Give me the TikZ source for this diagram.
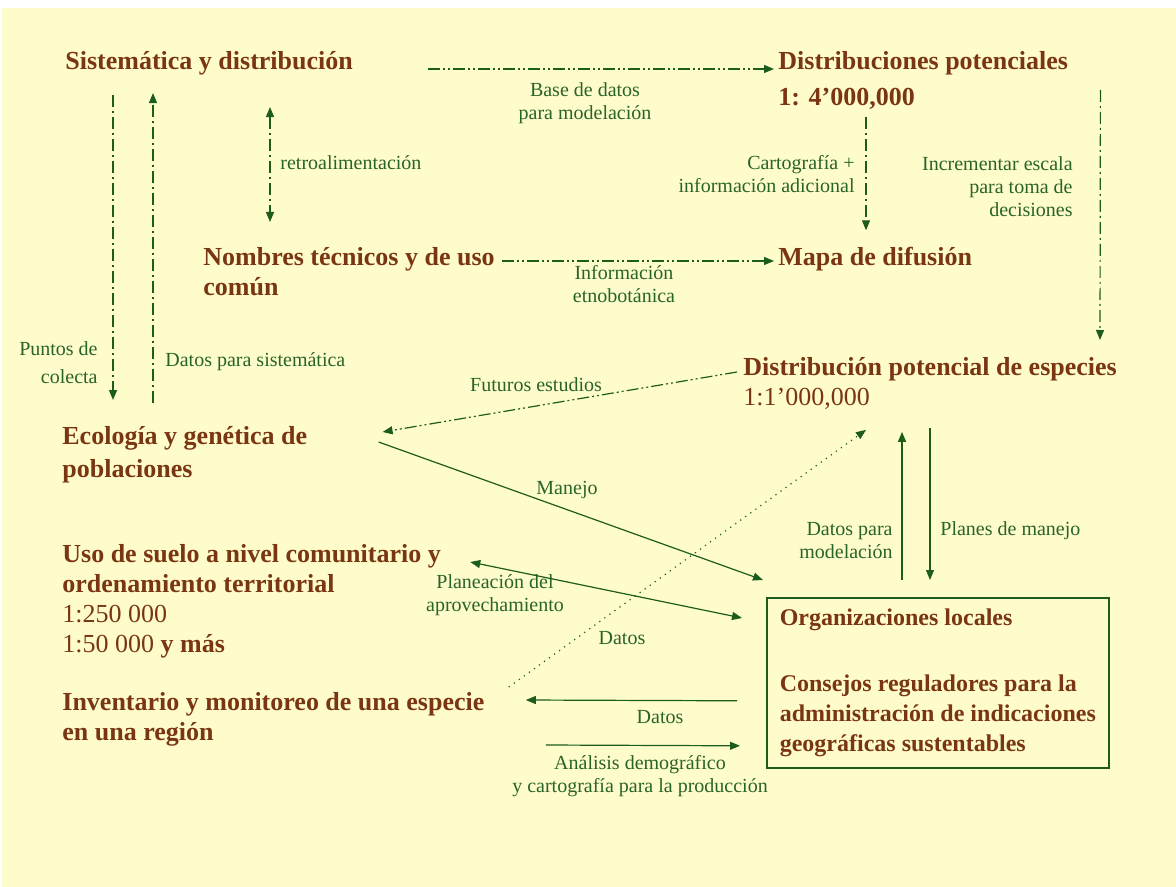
\documentclass[tikz,border=0pt]{standalone}
\usepackage{fontspec}
\setmainfont{Liberation Serif}
\usepackage{tikz}
\usetikzlibrary{arrows.meta, positioning, calc}
\definecolor{myCream}{RGB}{255, 252, 204}
\definecolor{myBrown}{RGB}{122, 54, 18}
\definecolor{myLeaf}{RGB}{28, 92, 28}
\definecolor{myLeafText}{RGB}{40, 100, 40}

\begin{document}
\begin{tikzpicture}[
    x=0.5pt, y=-0.5pt,
    >={Triangle[length=5pt, width=4pt]},
    % Styles
    topic/.style={
        font=\bfseries\fontsize{13}{15}\selectfont, text=myBrown, inner sep=0pt, align=left
    },
    topic_box/.style={
        draw=myLeaf, line width=0.8pt, font=\bfseries\fontsize{12}{15}\selectfont, text=myBrown,
        align=left, inner sep=0pt, minimum width=171pt, minimum height=85pt
    },
    note/.style={
        font=\fontsize{10}{11.5}\selectfont, text=myLeafText, inner sep=0pt
    },
    link/.style={draw=myLeaf, line width=0.6pt, ->},
    dashdot_link/.style={link, dash pattern=on 6pt off 2pt on 1pt off 2pt},
    dashdotdot_link/.style={link, dash pattern=on 6pt off 1.5pt on 1pt off 1.5pt on 1pt off 1.5pt},
    dotted_link/.style={link, dash pattern=on 0.6pt off 2.5pt}
]

    % --- Background ---
    \useasboundingbox (0,0) rectangle (1176,887);
    \fill[white] (0,0) rectangle (1176,887);
    \fill[myCream] (2,8) rectangle (1176,887);

    % --- 1. Topics ---
    \node[topic, anchor=base west] (sis) at (65,70) {Sistemática y distribución};
    \node[topic, anchor=north west] (dpot) at (778,51) {Distribuciones potenciales\\[3pt]1: 4’000,000};
    \node[topic, anchor=north west] (nom) at (203,247) {Nombres técnicos y de uso\\común};
    \node[topic, anchor=base west] (mapa) at (778,266) {Mapa de difusión};
    \node[topic, anchor=north west] (despec) at (743,357) {Distribución potencial de especies\\{\mdseries 1:1’000,000}};
    \node[topic, anchor=north west] (eco) at (62,426) {Ecología y genética de\\[1.5pt]poblaciones};
    \node[topic, anchor=north west] (uso) at (62,544) {Uso de suelo a nivel comunitario y\\ordenamiento territorial\\{\mdseries 1:250 000}\\{\mdseries 1:50 000} y más};
    \node[topic, anchor=north west] (inv) at (62,692) {Inventario y monitoreo de una especie\\en una región};

    % --- 2. Local organisations (framed) ---
    \node[topic_box, anchor=north west] (org) at (766,597) {Organizaciones locales\\[18pt]Consejos reguladores para la\\administración de indicaciones\\geográficas sustentables};

    % --- 3. Labels ---
    \node[note, align=center] (base) at (585,103) {Base de datos\\para modelación};
    \node[note, anchor=west] (retro) at (280,163) {retroalimentación};
    \node[note, anchor=east, align=right] (cart) at (855,174) {Cartografía +\\información adicional};
    \node[note, anchor=east, align=right] (incr) at (1073,187) {Incrementar escala\\para toma de\\decisiones};
    \node[note, align=center] (info) at (624,284) {Información\\etnobotánica};
    \node[note, anchor=east, align=right] (puntos) at (98,363) {Puntos de\\[2.5pt]colecta};
    \node[note, anchor=west] (dsis) at (165,362) {Datos para sistemática};
    \node[note] (fut) at (536,385) {Futuros estudios};
    \node[note] (manejo) at (567,490) {Manejo};
    \node[note, align=center] (plan) at (495,595) {Planeación del\\aprovechamiento};
    \node[note] (datos_a) at (622,638) {Datos};
    \node[note, anchor=east, align=right] (dmod) at (893,541) {Datos para\\modelación};
    \node[note, anchor=west] (pman) at (940,531) {Planes de manejo};
    \node[note] (datos_b) at (660,717) {Datos};
    \node[note, align=center] (anal) at (640,776) {Análisis demográfico\\y cartografía para la producción};

    % --- 4. Upper flows (dashed) ---
    \draw[dashdotdot_link] ($(sis.base east)+(75,-1)$) -- ($(dpot.north west)+(-4,18)$);
    \draw[dashdotdot_link] ($(nom.north east)+(7,14)$) -- ($(mapa.base west)+(-4,-5)$);
    \draw[dashdot_link, <->] ($(sis.south west)+(205,31)$) -- ($(nom.north west)+(67,-25)$);
    \draw[dashdot_link] ($(sis.south west)+(48,19)$) -- ($(eco.north west)+(51,-26)$);
    \draw[dashdot_link] ($(eco.north west)+(91,-23)$) -- ($(sis.south west)+(88,17)$);
    \draw[dashdot_link] ($(dpot.south west)+(88,7)$) -- ($(mapa.north west)+(88,-17)$);
    \draw[dashdot_link] ($(dpot.north east)+(32,39)$) -- ($(despec.north west)+(357,-17)$);
    \draw[dashdotdot_link] ($(despec.north west)+(-6,15)$) -- ($(eco.north east)+(75,6)$);

    % --- 5. Lower flows ---
    \draw[link] ($(eco.north east)+(71,16)$) -- ($(org.north west)+(-3,-17)$);
    \draw[link, <->] ($(uso.north east)+(29,18)$) -- ($(org.north west)+(-24,21)$);
    \draw[dotted_link] ($(inv.north east)+(24,-5)$) -- ($(despec.south west)+(123,20)$);
    \draw[link] ($(org.north west)+(136,-17)$) -- ($(despec.south west)+(159,22)$);
    \draw[link] ($(despec.south west)+(187,18)$) -- ($(org.north west)+(164,-17)$);
    \draw[link] ($(org.west)+(-29,18)$) -- ($(inv.north east)+(41,8)$);
    \draw[link] ($(inv.north east)+(61,53)$) -- ($(org.west)+(-26,63)$);

\end{tikzpicture}
\end{document}
